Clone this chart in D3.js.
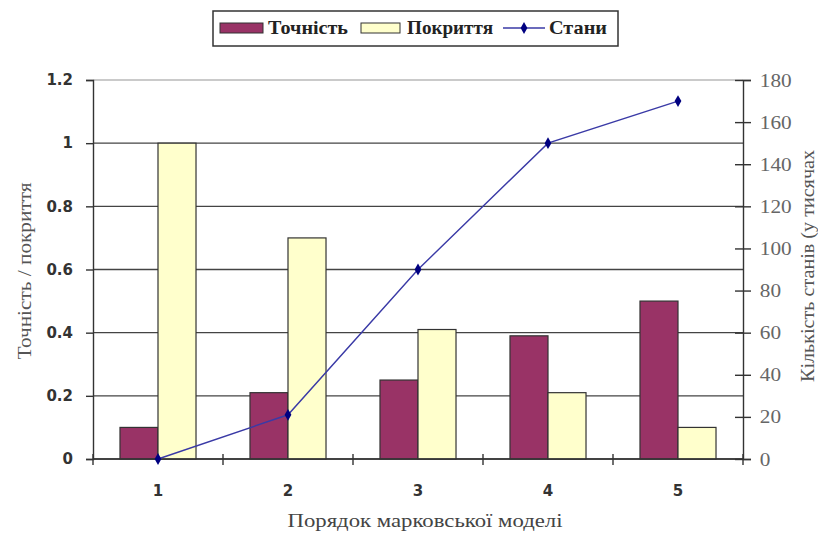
<!DOCTYPE html>
<html>
<head>
<meta charset="utf-8">
<script src="https://cdn.jsdelivr.net/npm/d3@7"></script>
<style>
  body { margin: 0; background: #fff; }
  svg { display: block; }
</style>
</head>
<body>
<div id="canvas"></div>
<script>
"use strict"

/* Data */
let orders = ["1", "2", "3", "4", "5"];
let precision = [0.1, 0.21, 0.25, 0.39, 0.5];     // Точність
let coverage = [1.0, 0.7, 0.41, 0.21, 0.1];       // Покриття
let states = [0, 21, 90, 150, 170];               // Стани, thousands
let leftTicks = [0, 0.2, 0.4, 0.6, 0.8, 1, 1.2];
let rightTicks = [0, 20, 40, 60, 80, 100, 120, 140, 160, 180];
let seriesNames = ["Точність", "Покриття"];

/* Drawing config */
let svgWidth = 818;
let svgHeight = 533;
let plotLeft = 93, plotRight = 743, plotTop = 80, plotBottom = 459;

let svg = d3.select("#canvas")
    .append("svg")
    .attr("width", svgWidth)
    .attr("height", svgHeight);

let xScale = d3.scaleBand()
    .domain(orders)
    .range([plotLeft, plotRight])
    .padding(0);

let xInner = d3.scaleBand()
    .domain(seriesNames)
    .range([0, xScale.bandwidth()])
    .paddingInner(0)
    .paddingOuter(0.71);

let yLeft = d3.scaleLinear().domain([0, 1.2]).range([plotBottom, plotTop]);
let yRight = d3.scaleLinear().domain([0, 180]).range([plotBottom, plotTop]);

let colors = { "Точність": "#993366", "Покриття": "#FFFFCC" };

// gridlines
svg.append("g")
    .selectAll("line")
    .data(leftTicks)
    .join("line")
    .attr("x1", plotLeft)
    .attr("x2", plotRight)
    .attr("y1", d => yLeft(d))
    .attr("y2", d => yLeft(d))
    .attr("stroke", d => d === 1.2 ? "#b8b8b8" : "#444")
    .attr("stroke-width", 1.4);

// bars
let rows = orders.map((o, i) => ({ order: o, values: [
    { name: "Точність", value: precision[i] },
    { name: "Покриття", value: coverage[i] }
]}));

svg.append("g")
    .selectAll("g")
    .data(rows)
    .join("g")
    .attr("transform", d => "translate(" + xScale(d.order) + ",0)")
    .selectAll("rect")
    .data(d => d.values)
    .join("rect")
    .attr("x", d => xInner(d.name))
    .attr("y", d => yLeft(d.value))
    .attr("width", xInner.bandwidth())
    .attr("height", d => yLeft(0) - yLeft(d.value))
    .attr("fill", d => colors[d.name])
    .attr("stroke", "#333")
    .attr("stroke-width", 1.2);

// left axis
let leftAxis = d3.axisLeft(yLeft).tickValues(leftTicks).tickSize(7).tickPadding(13)
    .tickFormat(d => String(d));
let gl = svg.append("g").attr("transform", "translate(" + plotLeft + ",0)").call(leftAxis);
gl.select(".domain").attr("stroke", "#333").attr("stroke-width", 1.4);
gl.selectAll(".tick line").attr("stroke", "#333").attr("stroke-width", 1.4);
gl.selectAll("text")
    .attr("font-family", "DejaVu Sans")
    .attr("font-weight", "bold")
    .attr("font-size", 15)
    .attr("fill", "#333");

// right axis, ticks cross the line
let rightAxis = d3.axisRight(yRight).tickValues(rightTicks).tickSize(8).tickPadding(7);
let gr = svg.append("g").attr("transform", "translate(" + plotRight + ",0)").call(rightAxis);
gr.select(".domain").attr("stroke", "#333").attr("stroke-width", 1.4);
gr.selectAll(".tick line").attr("x1", -8).attr("stroke", "#333").attr("stroke-width", 1.4);
gr.selectAll("text")
    .attr("font-family", "Liberation Serif")
    .attr("font-size", 19)
    .attr("fill", "#666")
    .attr("transform", "scale(1.12,1)");

// bottom axis: ticks at category boundaries
let boundaries = orders.map(o => xScale(o)).concat([plotRight]);
svg.append("line")
    .attr("x1", plotLeft).attr("x2", plotRight)
    .attr("y1", plotBottom).attr("y2", plotBottom)
    .attr("stroke", "#333").attr("stroke-width", 1.4);
svg.append("g")
    .selectAll("line")
    .data(boundaries)
    .join("line")
    .attr("x1", d => d).attr("x2", d => d)
    .attr("y1", plotBottom - 5).attr("y2", plotBottom + 6)
    .attr("stroke", "#333").attr("stroke-width", 1.4);
svg.append("g")
    .selectAll("text")
    .data(orders)
    .join("text")
    .attr("x", d => xScale(d) + xScale.bandwidth() / 2)
    .attr("y", 496)
    .attr("text-anchor", "middle")
    .attr("font-family", "DejaVu Sans")
    .attr("font-weight", "bold")
    .attr("font-size", 15)
    .attr("fill", "#333")
    .text(d => d);

// states line
let line = d3.line()
    .x((d, i) => xScale(orders[i]) + xScale.bandwidth() / 2)
    .y(d => yRight(d));
svg.append("path")
    .datum(states)
    .attr("d", line)
    .attr("fill", "none")
    .attr("stroke", "#3a3aa6")
    .attr("stroke-width", 1.4);
svg.append("g")
    .selectAll("path")
    .data(states)
    .join("path")
    .attr("transform", (d, i) => "translate(" + (xScale(orders[i]) + xScale.bandwidth() / 2) + "," + yRight(d) + ")")
    .attr("d", d3.symbol(d3.symbolDiamond, 40))
    .attr("fill", "#000080");

// axis titles
svg.append("text")
    .attr("x", 425)
    .attr("y", 527)
    .attr("text-anchor", "middle")
    .attr("font-family", "Liberation Serif")
    .attr("font-size", 19)
    .attr("fill", "#444")
    .attr("textLength", 275)
    .attr("lengthAdjust", "spacingAndGlyphs")
    .text("Порядок марковської моделі");

svg.append("text")
    .attr("transform", "translate(31,271) rotate(-90)")
    .attr("text-anchor", "middle")
    .attr("font-family", "Liberation Serif")
    .attr("font-size", 19)
    .attr("fill", "#555")
    .attr("textLength", 177)
    .attr("lengthAdjust", "spacingAndGlyphs")
    .text("Точність / покриття");

svg.append("text")
    .attr("transform", "translate(814,382) rotate(-90)")
    .attr("text-anchor", "start")
    .attr("font-family", "Liberation Serif")
    .attr("font-size", 19)
    .attr("fill", "#555")
    .attr("textLength", 232)
    .attr("lengthAdjust", "spacingAndGlyphs")
    .text("Кількість станів (у тисячах");

// legend
let legend = svg.append("g");
legend.append("rect")
    .attr("x", 213).attr("y", 11)
    .attr("width", 405).attr("height", 35)
    .attr("fill", "#fff")
    .attr("stroke", "#333")
    .attr("stroke-width", 1.5);

let legendY = 28;
let legendFont = function (sel, len) {
    sel.attr("font-family", "Liberation Serif").attr("font-weight", "bold")
        .attr("font-size", 19).attr("fill", "#222")
        .attr("textLength", len).attr("lengthAdjust", "spacingAndGlyphs");
};
legend.append("rect")
    .attr("x", 220).attr("y", legendY - 5).attr("width", 43).attr("height", 10)
    .attr("fill", colors["Точність"]).attr("stroke", "#333");
legend.append("text")
    .attr("x", 268).attr("y", legendY + 6)
    .call(legendFont, 80)
    .text("Точність");
legend.append("rect")
    .attr("x", 361).attr("y", legendY - 5).attr("width", 39).attr("height", 10)
    .attr("fill", colors["Покриття"]).attr("stroke", "#333");
legend.append("text")
    .attr("x", 407).attr("y", legendY + 6)
    .call(legendFont, 86)
    .text("Покриття");
legend.append("line")
    .attr("x1", 503).attr("x2", 545)
    .attr("y1", legendY).attr("y2", legendY)
    .attr("stroke", "#3a3aa6").attr("stroke-width", 1.4);
legend.append("path")
    .attr("transform", "translate(524," + legendY + ")")
    .attr("d", d3.symbol(d3.symbolDiamond, 40))
    .attr("fill", "#000080");
legend.append("text")
    .attr("x", 549).attr("y", legendY + 6)
    .call(legendFont, 58)
    .text("Стани");
</script>
</body>
</html>
